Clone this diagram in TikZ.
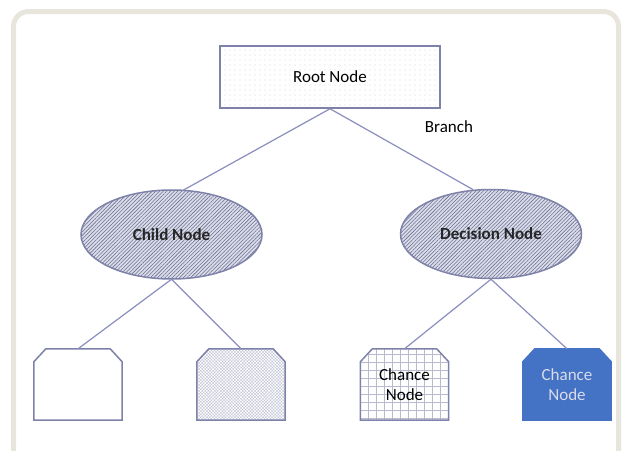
\documentclass[tikz,border=0pt]{standalone}
\usepackage{fontspec}
\setmainfont{Carlito}
\usepackage{xcolor}
\usetikzlibrary{shapes.geometric, patterns.meta, backgrounds, positioning}

\definecolor{framegray}{HTML}{E8E5DC}
\definecolor{edgeblue}{HTML}{7E82A8}
\definecolor{lineblue}{HTML}{8A8EBE}
\definecolor{hatchblue}{HTML}{4F5578}
\definecolor{hatchbg}{HTML}{DADCEA}
\definecolor{fillblue}{HTML}{4472C4}
\definecolor{paletext}{HTML}{D9DCEA}

\begin{document}
\begin{tikzpicture}[x=1pt, y=-1pt,
    every node/.style={font=\fontsize{17}{20.4}\selectfont},
    rootbox/.style={rectangle, draw=edgeblue, line width=1.5pt, minimum width=220pt, minimum height=62pt,
        pattern={Dots[radius=0.45pt, distance=5pt]}, pattern color=hatchblue!60},
    oval/.style={ellipse, draw=edgeblue, line width=1.5pt, minimum width=181pt, minimum height=89pt,
        preaction={fill=hatchbg},
        pattern={Lines[angle=45, distance=2.6pt, line width=0.55pt]}, pattern color=hatchblue!85,
        font=\fontsize{17}{20.4}\selectfont\bfseries, text=black!85},
    leaf/.style={rectangle, minimum width=88pt, minimum height=71pt, inner sep=0pt, align=center},
    leafline/.style={draw=edgeblue, line width=1.5pt},
    link/.style={lineblue, line width=1.2pt}]

% Frame and margins
\useasboundingbox (0,0) rectangle (632,450);
\begin{scope}[on background layer]
\fill[white] (0,0) rectangle (632,450);
\draw[framegray, line width=5pt, rounded corners=15pt] (13.5,11.5) rectangle (618.5,480);
\end{scope}

% Root
\node[rootbox] (root) at (330,77) {Root Node};

% Second level
\node[oval] (child) at (171.5,234.5) {Child Node};
\node[oval] (decision) at (491,234) {Decision Node};

% Leaves (outline with cut top corners drawn behind)
\node[leaf] (leafa) at (78,384.5) {};
\node[leaf] (leafb) at (241,384.5) {};
\node[leaf] (leafc) at (404.5,384.5) {Chance\\Node};
\node[leaf, text=paletext] (leafd) at (567,384.5) {Chance\\Node};

\begin{scope}[on background layer]
\foreach \n/\look in {leafa/{fill=white},
                      leafb/{pattern={Hatch[angle=45, distance=2.2pt, line width=0.35pt]}, pattern color=edgeblue!50},
                      leafc/{pattern={Hatch[angle=0, distance=8pt, line width=0.4pt]}, pattern color=edgeblue!55},
                      leafd/{fill=fillblue, draw=fillblue}} {
    \path[leafline, style/.expand once=\look]
        ([yshift=-13pt]\n.north west) -- ([xshift=12pt]\n.north west) -- ([xshift=-12pt]\n.north east)
        -- ([yshift=-13pt]\n.north east) -- (\n.south east) -- (\n.south west) -- cycle;
}
\end{scope}

% Branches
\draw[link] (root.south) -- (child.75);
\draw[link] (root.south) -- (decision.112);
\node (branch) at (449,127) {Branch};

\draw[link] (child.south) -- (leafa.north);
\draw[link] (child.south) -- (leafb.north);
\draw[link] (decision.south) -- (leafc.north);
\draw[link] (decision.south) -- (leafd.north);
\end{tikzpicture}
\end{document}
